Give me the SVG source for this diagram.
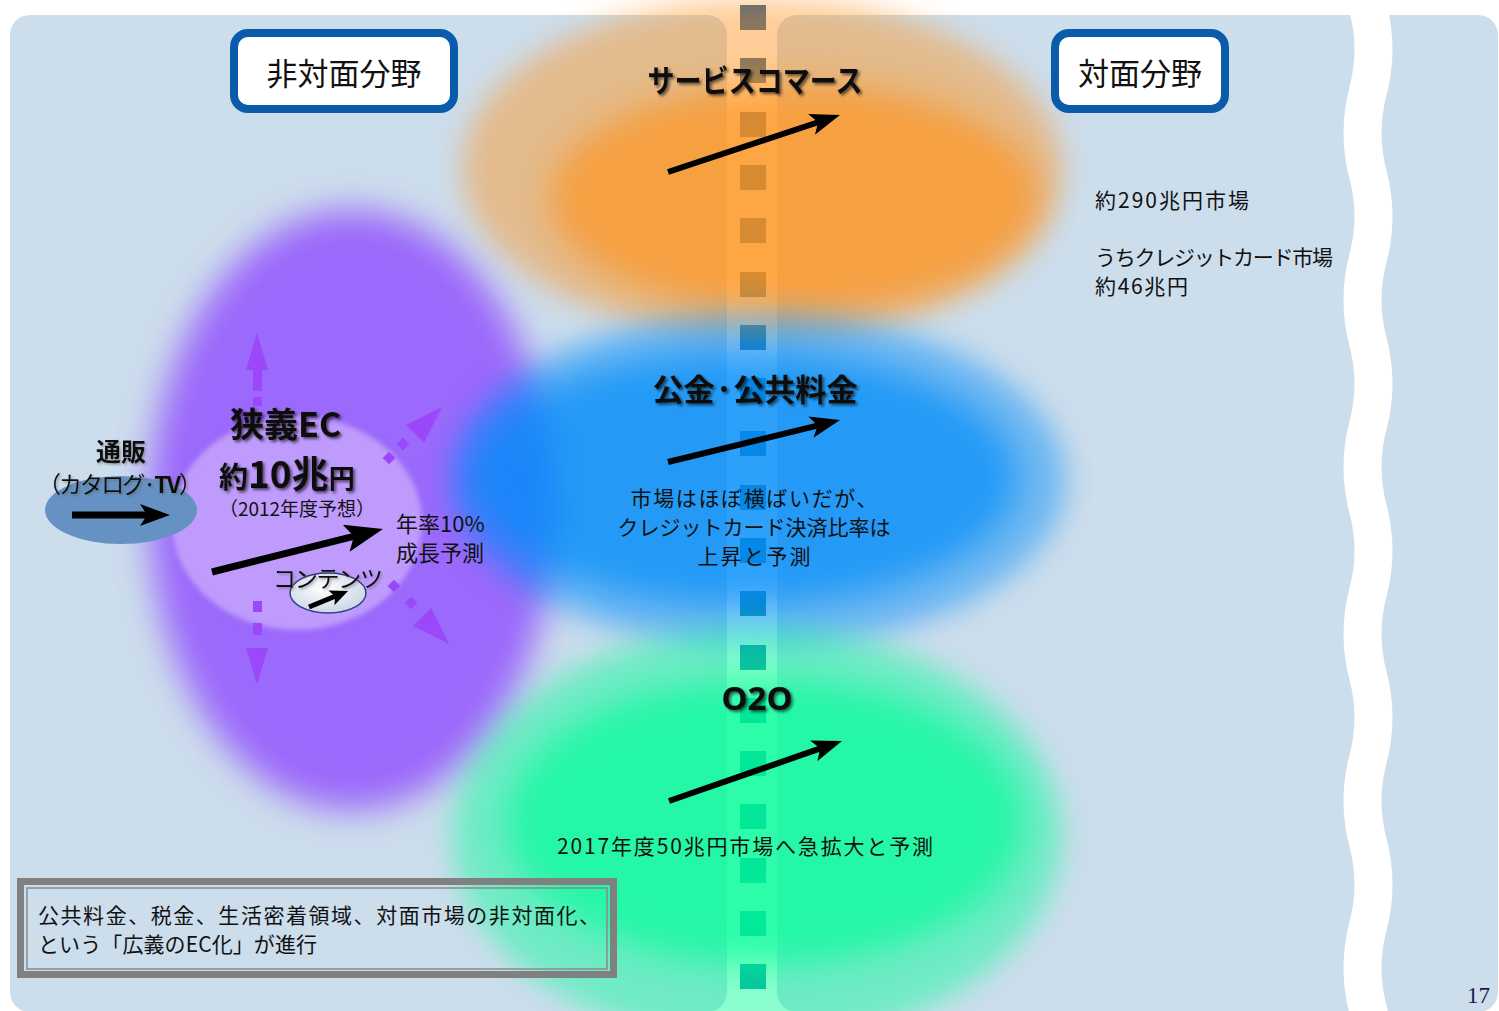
<svg xmlns="http://www.w3.org/2000/svg" width="1499" height="1011" viewBox="0 0 1499 1011">
<defs>
<style>
.jp{font-family:"Noto Sans CJK JP","Noto Sans",sans-serif;fill:#111;}
.b{font-weight:700;}
.panel{fill:#CCDDEC;}
.hdr{fill:#fff;stroke:#0A5BAA;stroke-width:8;}
.arr{stroke:#000;stroke-width:6;fill:none;marker-end:url(#ah);}
.pd{fill:#9B47FA;}
.sq{fill:url(#sqg);}
</style>
<linearGradient id="sqg" gradientUnits="userSpaceOnUse" x1="0" y1="0" x2="0" y2="1011">
<stop offset="0" stop-color="#2C5F96"/><stop offset="1" stop-color="#0C97A3"/>
</linearGradient>
<radialGradient id="smallg" cx="0.45" cy="0.4" r="0.7">
<stop offset="0" stop-color="#FFFFFF"/><stop offset="1" stop-color="#C4CFE3"/>
</radialGradient>
<filter id="bl" x="-30%" y="-30%" width="160%" height="160%"><feGaussianBlur stdDeviation="17"/></filter>
<filter id="bl2" x="-30%" y="-30%" width="160%" height="160%"><feGaussianBlur stdDeviation="14"/></filter>
<filter id="bl3" x="-10%" y="-10%" width="120%" height="120%"><feGaussianBlur stdDeviation="2.5"/></filter>
<filter id="sh" x="-10%" y="-30%" width="130%" height="170%"><feDropShadow dx="2" dy="2" stdDeviation="1.6" flood-color="#000" flood-opacity="0.6"/></filter>
<filter id="shl" x="-10%" y="-30%" width="130%" height="170%"><feDropShadow dx="1.5" dy="1.5" stdDeviation="1.2" flood-color="#555" flood-opacity="0.5"/></filter>
<marker id="ah" markerUnits="userSpaceOnUse" viewBox="0 0 30 22" markerWidth="30" markerHeight="22" refX="14" refY="11" orient="auto">
<path d="M0,0 L30,11 L0,22 L7,11 z" fill="#000"/>
</marker>
<marker id="ahL" markerUnits="userSpaceOnUse" viewBox="0 0 38 28" markerWidth="38" markerHeight="28" refX="18" refY="14" orient="auto">
<path d="M0,0 L38,14 L0,28 L8,14 z" fill="#000"/>
</marker>
<marker id="ahS" markerUnits="userSpaceOnUse" viewBox="0 0 18 16" markerWidth="18" markerHeight="16" refX="8" refY="8" orient="auto">
<path d="M0,0 L18,8 L0,16 L4,8 z" fill="#000"/>
</marker>
</defs>

<rect x="0" y="0" width="1499" height="1011" fill="#fff"/>

<g id="panels">
<rect class="panel" x="10" y="15" width="717" height="997" rx="20"/>
<rect class="panel" x="777" y="15" width="721" height="997" rx="20"/>
<path d="M1368,-75.75 Q1357,-34 1368,7.75 T1368,91.25 T1368,174.75 T1368,258.25 T1368,341.75 T1368,425.25 T1368,508.75 T1368,592.25 T1368,675.75 T1368,759.25 T1368,842.75 T1368,926.25 T1368,1009.75 T1368,1093.25" fill="none" stroke="#fff" stroke-width="38"/>
</g>

<g id="divider">
<rect class="sq" x="740" y="5" width="26" height="25"/>
<rect class="sq" x="740" y="58" width="26" height="25"/>
<rect class="sq" x="740" y="112" width="26" height="25"/>
<rect class="sq" x="740" y="165" width="26" height="25"/>
<rect class="sq" x="740" y="218" width="26" height="25"/>
<rect class="sq" x="740" y="272" width="26" height="25"/>
<rect class="sq" x="740" y="325" width="26" height="25"/>
<rect class="sq" x="740" y="378" width="26" height="25"/>
<rect class="sq" x="740" y="431" width="26" height="25"/>
<rect class="sq" x="740" y="485" width="26" height="25"/>
<rect class="sq" x="740" y="538" width="26" height="25"/>
<rect class="sq" x="740" y="591" width="26" height="25"/>
<rect class="sq" x="740" y="645" width="26" height="25"/>
<rect class="sq" x="740" y="698" width="26" height="25"/>
<rect class="sq" x="740" y="751" width="26" height="25"/>
<rect class="sq" x="740" y="804" width="26" height="25"/>
<rect class="sq" x="740" y="858" width="26" height="25"/>
<rect class="sq" x="740" y="911" width="26" height="25"/>
<rect class="sq" x="740" y="964" width="26" height="25"/>
</g>

<g id="blobs">
<ellipse cx="762" cy="168" rx="300" ry="170" fill="#FF931F" opacity="0.45" filter="url(#bl2)"/>
<ellipse cx="795" cy="198" rx="245" ry="115" fill="#FF931F" opacity="0.67" filter="url(#bl)"/>
<ellipse cx="352" cy="510" rx="203" ry="300" fill="#9B69FB" filter="url(#bl)"/>
<ellipse cx="758" cy="480" rx="308" ry="168" fill="#008CF9" opacity="0.45" filter="url(#bl2)"/>
<ellipse cx="742" cy="478" rx="275" ry="128" fill="#008CF9" opacity="0.67" filter="url(#bl)"/>
<ellipse cx="757" cy="835" rx="305" ry="208" fill="#00FD97" opacity="0.45" filter="url(#bl2)"/>
<ellipse cx="765" cy="822" rx="258" ry="143" fill="#00FD97" opacity="0.67" filter="url(#bl)"/>
</g>

<g id="node-hitaimen">
<rect class="hdr" x="234" y="33" width="220" height="76" rx="14"/>
<text class="jp" x="344" y="85" font-size="31" text-anchor="middle">非対面分野</text>
</g>

<g id="node-taimen">
<rect class="hdr" x="1055" y="33" width="170" height="76" rx="14"/>
<text class="jp" x="1140" y="85" font-size="31" text-anchor="middle">対面分野</text>
</g>

<g id="node-market-info">
<text class="jp" x="1095" y="208" font-size="21" textLength="154">約290兆円市場</text>
<text class="jp" x="1095" y="265" font-size="21" textLength="238">うちクレジットカード市場</text>
<text class="jp" x="1095" y="294" font-size="21" textLength="93">約46兆円</text>
</g>

<g id="node-ec">
<ellipse cx="297" cy="523" rx="125" ry="107" fill="#BE9BFC" filter="url(#bl3)"/>
<g filter="url(#sh)">
<text class="jp b" x="230" y="437" font-size="34">狭義EC</text>
<text class="jp b" x="219" y="488"><tspan font-size="29">約</tspan><tspan font-size="37">10兆</tspan><tspan font-size="26">円</tspan></text>
</g>
<text class="jp" x="219" y="516" font-size="19" textLength="156">（2012年度予想）</text>
<text class="jp" x="396" y="532" font-size="22">年率10%</text>
<text class="jp" x="396" y="561" font-size="22">成長予測</text>
</g>

<g id="node-tsuhan">
<ellipse cx="121" cy="510" rx="76" ry="34" fill="#6592C2"/>
<g filter="url(#shl)">
<text class="jp b" x="121" y="461" font-size="25" text-anchor="middle">通販</text>
<text class="jp" x="38" y="493" font-size="23" textLength="164">（カタログ·<tspan class="b">TV</tspan>）</text>
</g>
</g>

<g id="node-contents">
<ellipse cx="328" cy="593" rx="38" ry="20" fill="url(#smallg)" stroke="#2F3F7F" stroke-width="1.5"/>
<text class="jp" x="273" y="587" font-size="23" textLength="110" filter="url(#shl)">コンテンツ</text>
</g>

<g id="node-service">
<text class="jp b" x="755" y="92" font-size="31" text-anchor="middle" textLength="215" lengthAdjust="spacingAndGlyphs" filter="url(#sh)">サービスコマース</text>
</g>

<g id="node-koukin">
<text class="jp b" x="755" y="401" font-size="31" text-anchor="middle" textLength="205" lengthAdjust="spacingAndGlyphs" filter="url(#sh)">公金·公共料金</text>
<text class="jp" x="754" y="506" font-size="21" text-anchor="middle" textLength="247">市場はほぼ横ばいだが、</text>
<text class="jp" x="754" y="535" font-size="21" text-anchor="middle" textLength="273">クレジットカード決済比率は</text>
<text class="jp" x="754" y="564" font-size="21" text-anchor="middle" textLength="113">上昇と予測</text>
</g>

<g id="node-o2o">
<text x="757" y="710" font-size="33" text-anchor="middle" font-family="'Noto Sans','DejaVu Sans',sans-serif" font-weight="700" fill="#111" filter="url(#sh)">O2O</text>
<text class="jp" x="745" y="854" font-size="21" text-anchor="middle" textLength="376">2017年度50兆円市場へ急拡大と予測</text>
</g>

<g id="connectors">
<line class="arr" x1="668" y1="172" x2="824.8" y2="120"/>
<line class="arr" x1="668" y1="462" x2="824.5" y2="423.8"/>
<line class="arr" x1="669" y1="801" x2="826.9" y2="746.2"/>
<line x1="72" y1="515" x2="154" y2="515" stroke="#000" stroke-width="7" marker-end="url(#ah)"/>
<line x1="212" y1="572" x2="363.6" y2="533.9" stroke="#000" stroke-width="7" marker-end="url(#ahL)"/>
<line x1="309" y1="607" x2="338.8" y2="594.8" stroke="#000" stroke-width="5" marker-end="url(#ahS)"/>
<g id="purple-arrows">
<polygon class="pd" points="257,333 246,370 268,370"/>
<rect class="pd" x="253" y="369" width="9" height="22"/>
<rect class="pd" x="253" y="397" width="9" height="9"/>
<rect class="pd" x="253" y="601" width="9" height="11"/>
<rect class="pd" x="253" y="623" width="9" height="12"/>
<polygon class="pd" points="246,648 268,648 257,684"/>
<polygon class="pd" points="442,407 406,425 424,443"/>
<rect class="pd" x="-4.5" y="-4.5" width="9" height="9" transform="translate(403,444) rotate(45)"/>
<rect class="pd" x="-4.5" y="-4.5" width="9" height="9" transform="translate(389,458) rotate(45)"/>
<rect class="pd" x="-4.5" y="-4.5" width="9" height="9" transform="translate(394,586) rotate(45)"/>
<rect class="pd" x="-4.5" y="-4.5" width="9" height="9" transform="translate(411,603) rotate(45)"/>
<polygon class="pd" points="449,644 413,626 431,608"/>
</g>
</g>

<g id="node-note">
<rect x="20.5" y="881.5" width="593" height="93" fill="none" stroke="#808080" stroke-width="7"/>
<rect x="27" y="888" width="580" height="81" fill="none" stroke="#8A8A8A" stroke-width="1.5"/>
<text class="jp" x="38" y="923" font-size="21" textLength="562">公共料金、税金、生活密着領域、対面市場の非対面化、</text>
<text class="jp" x="38" y="952" font-size="21" textLength="279">という「広義のEC化」が進行</text>
</g>

<text x="1467" y="1003" font-size="23" font-family="'Liberation Serif',serif" fill="#1B1B4B">17</text>
</svg>
